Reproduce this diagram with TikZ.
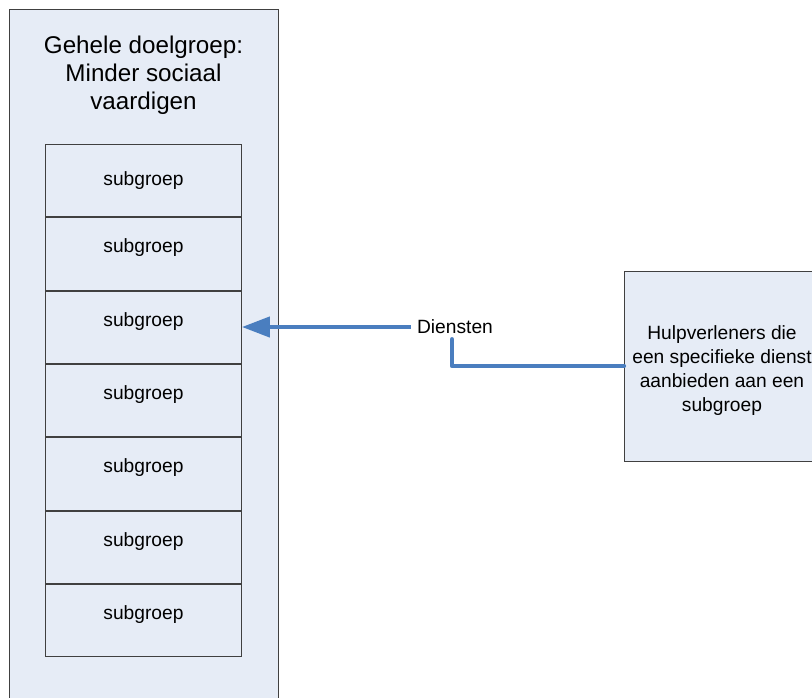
\documentclass[tikz,border=0pt]{standalone}
\usepackage{fontspec}
\setmainfont{Liberation Sans}
\usetikzlibrary{arrows.meta,positioning}
\definecolor{boxfill}{HTML}{E6ECF6}
\definecolor{boxline}{HTML}{404040}
\definecolor{conn}{HTML}{4A7EBF}
\begin{document}
\begin{tikzpicture}[x=1pt,y=-1pt,
  bigbox/.style={draw=boxline,line width=0.9pt,fill=boxfill,rectangle,inner sep=0pt},
  subbox/.style={draw=boxline,line width=0.9pt,fill=boxfill,rectangle,inner sep=0pt,
    minimum width=196pt,minimum height=72.4pt,font=\fontsize{19.2}{22}\selectfont},
  conline/.style={draw=conn,line width=4.3pt},
  lbl/.style={font=\fontsize{19.2}{24}\selectfont,align=center,inner sep=2pt}]
\useasboundingbox (0,0) rectangle (812,697);
\clip (0,0) rectangle (812,697);
\node[bigbox,minimum width=269pt,minimum height=720pt,anchor=north west] (big) at (9,9) {};
\node[font=\fontsize{24.2}{28}\selectfont,align=center] (title) at (143.5,75) {Gehele doelgroep:\\Minder sociaal\\vaardigen};
\node[subbox,anchor=north west] (s1) at (45,144) {subgroep};
\node[subbox,anchor=north,text depth=16pt] (s2) at (s1.south) {subgroep};
\node[subbox,anchor=north,text depth=16pt] (s3) at (s2.south) {subgroep};
\node[subbox,anchor=north,text depth=16pt] (s4) at (s3.south) {subgroep};
\node[subbox,anchor=north,text depth=16pt] (s5) at (s4.south) {subgroep};
\node[subbox,anchor=north,text depth=16pt] (s6) at (s5.south) {subgroep};
\node[subbox,anchor=north,text depth=16pt] (s7) at (s6.south) {subgroep};
\node[bigbox,minimum width=210pt,minimum height=190pt,anchor=north west] (rb) at (624,271) {};
\node[lbl] (rbtext) at (722,371) {Hulpverleners die\\een specifieke dienst\\aanbieden aan een\\subgroep};
\node[lbl,inner sep=0pt,minimum height=26pt] (dien) at (455,327) {Diensten};
\draw[conline,-{Triangle[length=28pt,width=20pt]}] (dien.west) ++(-6,0) -- (s3.east |- dien.west);
\draw[conline,line cap=round,line join=round] (rb.west |- 0,366) -| ([yshift=1pt]dien.south -| 452,0);
\end{tikzpicture}
\end{document}
